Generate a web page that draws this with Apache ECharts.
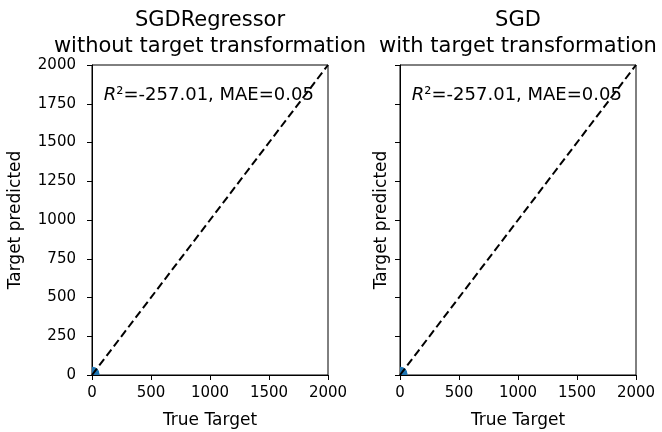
<!DOCTYPE html>
<html>
<head>
<meta charset="utf-8">
<script src="https://cdn.jsdelivr.net/npm/echarts@6/dist/echarts.min.js"></script>
<style>html,body{margin:0;padding:0;background:#fff}#c{width:662px;height:432px}</style>
</head>
<body>
<div id="c"></div>
<script>
// ---- data ----
var xTicks = [0, 500, 1000, 1500, 2000];
var yTicks = [0, 250, 500, 750, 1000, 1250, 1500, 1750, 2000];
var titles = ["SGDRegressor\nwithout target transformation", "SGD\nwith target transformation"];
var r2Scores = [-257.01, -257.01];
var maeScores = [0.05, 0.05];
var trueTargetA = [2, 5, 8, 10, 4, 12, 6, 3];
var predictedA = [4, 8, 6, 12, 10, 5, 14, 2];
var trueTargetB = [2, 5, 8, 10, 4, 12, 6, 3];
var predictedB = [4, 8, 6, 12, 10, 5, 14, 2];
var diagonal = [[0, 0], [2000, 2000]];
var textAnchor = [100, 1750];

var FONT = '"DejaVu Sans", sans-serif';
var chart = echarts.init(document.getElementById('c'), null, {renderer: 'canvas'});

function pairs(xs, ys) { return xs.map(function (x, i) { return [x, ys[i]]; }); }

var grids = [
  {left: 92, top: 65, width: 236, height: 310},
  {left: 400, top: 65, width: 236, height: 310}
];

function xAxisCfg(i) {
  return {
    gridIndex: i, type: 'value', min: 0, max: 2000, interval: 500,
    name: 'True Target', nameLocation: 'middle', nameGap: 37,
    nameTextStyle: {fontFamily: FONT, fontSize: 17, color: '#000'},
    axisLine: {show: true, onZero: false, lineStyle: {color: '#000', width: 1}},
    axisTick: {show: true, length: 5, lineStyle: {color: '#000'}},
    axisLabel: {fontFamily: FONT, fontSize: 15, color: '#000', margin: 11, formatter: function (v) { return String(v); }},
    splitLine: {show: false}
  };
}
function yAxisCfg(i, showLabels) {
  return {
    gridIndex: i, type: 'value', min: 0, max: 2000, interval: 250,
    name: 'Target predicted', nameLocation: 'middle', nameGap: showLabels ? 68 : 10,
    nameTextStyle: {fontFamily: FONT, fontSize: 17, color: '#000'},
    axisLine: {show: true, onZero: false, lineStyle: {color: '#000', width: 1}},
    axisTick: {show: true, length: 5, lineStyle: {color: '#000'}},
    axisLabel: {show: showLabels, fontFamily: FONT, fontSize: 15, color: '#000', margin: 16, formatter: function (v) { return String(v); }},
    splitLine: {show: false}
  };
}

function dotRender(params, api) {
  var p = api.coord([api.value(0), api.value(1)]);
  return {type: 'circle', shape: {cx: p[0], cy: p[1], r: 6}, style: {fill: '#1f77b4', opacity: 0.9}};
}

chart.setOption({
  animation: false,
  grid: grids.map(function (g) {
    return Object.assign({show: true, borderColor: '#000', borderWidth: 1, containLabel: false, outerBoundsMode: 'none'}, g);
  }),
  xAxis: [xAxisCfg(0), xAxisCfg(1)],
  yAxis: [yAxisCfg(0, true), yAxisCfg(1, false)],
  series: [
    {type: 'custom', xAxisIndex: 0, yAxisIndex: 0, data: pairs(trueTargetA, predictedA), renderItem: dotRender, clip: true, encode: {x: 0, y: 1}},
    {type: 'line', xAxisIndex: 0, yAxisIndex: 0, data: diagonal, symbol: 'none', clip: false, lineStyle: {color: '#000', width: 2, type: [8, 4]}},
    {type: 'custom', xAxisIndex: 1, yAxisIndex: 1, data: pairs(trueTargetB, predictedB), renderItem: dotRender, clip: true, encode: {x: 0, y: 1}},
    {type: 'line', xAxisIndex: 1, yAxisIndex: 1, data: diagonal, symbol: 'none', clip: false, lineStyle: {color: '#000', width: 2, type: [8, 4]}}
  ]
});

var graphics = [];
[0, 1].forEach(function (i) {
  var g = grids[i];
  graphics.push({
    type: 'text',
    style: {x: g.left + g.width / 2, y: 8, text: titles[i], textAlign: 'center', textVerticalAlign: 'top',
      font: '21px ' + FONT, fill: '#000', lineHeight: 26}
  });
  var p = chart.convertToPixel({gridIndex: i}, textAnchor);
  graphics.push({
    type: 'text',
    style: {x: p[0], y: p[1] + 1, textVerticalAlign: 'bottom', textAlign: 'left',
      text: '{it|R}{n|²=' + r2Scores[i].toFixed(2) + ', MAE=' + maeScores[i].toFixed(2) + '}',
      rich: {
        it: {fontFamily: FONT, fontSize: 18, fontStyle: 'italic', fill: '#000', color: '#000'},
        n: {fontFamily: FONT, fontSize: 18, fill: '#000', color: '#000'}
      }}
  });
});
chart.setOption({graphic: graphics});
</script>
</body>
</html>
